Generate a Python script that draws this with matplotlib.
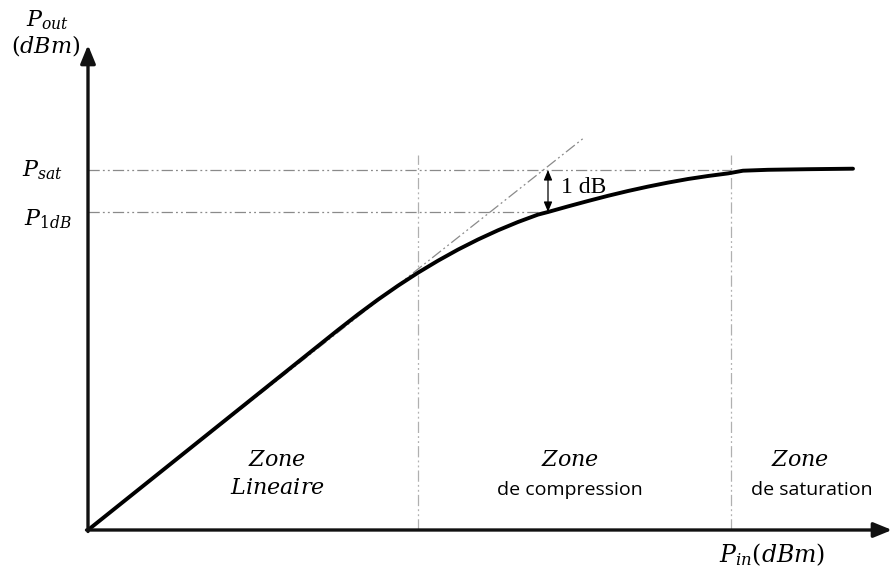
import matplotlib.pyplot as plt

plt.rcParams['mathtext.fontset'] = 'dejavuserif'

# courbe Pout = f(Pin), unités arbitraires (origine = coin des axes)
p_in = [0, 100, 200, 250, 270, 290, 310, 330, 350, 370, 390, 410, 430, 450, 460,
        480, 500, 520, 540, 560, 580, 600, 620, 640, 655, 680, 720, 765]
p_out = [0, 80, 160, 200, 215.6, 230.4, 244.3, 257.3, 269.3, 280.4, 290.5, 299.7, 308, 315.4, 318,
         323.6, 329, 334.2, 339, 343.4, 347.4, 351, 354, 356.6, 359.3, 360.2, 360.8, 361.3]

# droite tangente (zone linéaire)
tan_x = [0, 497]
tan_y = [0, 393]

p_sat = 360
p_1db = 318
x_1db = 460
x_zones = [330, 643]
zone_top = 375

x_max = 804
y_max = 485

DASH = (0, (9, 2.5, 1.5, 2.5, 1.5, 2.5))
GRIS = "#8a8a8a"

fig = plt.figure(figsize=(8.93, 5.69), dpi=100)
ax = fig.add_axes([0, 0, 1, 1])
ax.set_xlim(-88, 805)
ax.set_ylim(-39, 530)
ax.axis("off")

# axes avec flèches
ax.annotate("", xy=(x_max, 0), xytext=(-1.5, 0),
            arrowprops=dict(arrowstyle="-|>,head_length=1.1,head_width=0.45",
                            color="#111111", lw=2.4, shrinkA=0, shrinkB=0))
ax.annotate("", xy=(0, y_max), xytext=(0, -1.5),
            arrowprops=dict(arrowstyle="-|>,head_length=1.1,head_width=0.45",
                            color="#111111", lw=2.4, shrinkA=0, shrinkB=0))

# lignes de repère
ax.plot(tan_x, tan_y, color=GRIS, lw=0.9, linestyle=DASH)
ax.plot([0, x_zones[1]], [p_sat, p_sat], color=GRIS, lw=0.9, linestyle=DASH)
ax.plot([0, x_1db], [p_1db, p_1db], color=GRIS, lw=0.9, linestyle=DASH)
for xz in x_zones:
    ax.plot([xz, xz], [0, zone_top], color="#b0b0b0", lw=0.9, linestyle=DASH)

# courbe
ax.plot(p_in, p_out, color="black", lw=2.8, solid_capstyle="round", solid_joinstyle="round")

# flèche 1 dB
ax.annotate("", xy=(x_1db, p_sat), xytext=(x_1db, p_1db),
            arrowprops=dict(arrowstyle="<|-|>,head_length=0.6,head_width=0.25",
                            color="black", lw=0.9, shrinkA=0, shrinkB=0))
ax.text(x_1db + 13, (p_sat + p_1db) / 2 + 4, "1 dB", fontsize=17,
        family="Liberation Serif", va="center", ha="left")

# libellés des axes
ax.text(-41, 510, r"$P_{out}$", fontsize=16, ha="center", va="center")
ax.text(-42, 485, r"$(dBm)$", fontsize=16, ha="center", va="center")
ax.text(-46, p_sat, r"$P_{sat}$", fontsize=16, ha="center", va="center")
ax.text(-40, p_1db - 7, r"$P_{1dB}$", fontsize=16, ha="center", va="center")
ax.text(684, -25, r"$P_{in}(dBm)$", fontsize=17, ha="center", va="center")

# zones
ax.text(189, 70, r"$Zone$", fontsize=16, ha="center", va="center")
ax.text(189, 42, r"$Lineaire$", fontsize=16, ha="center", va="center")
ax.text(482, 70, r"$Zone$", fontsize=16, ha="center", va="center")
ax.text(482, 40, "de compression", fontsize=14, family="Open Sans", ha="center", va="center")
ax.text(712, 70, r"$Zone$", fontsize=16, ha="center", va="center")
ax.text(724, 40, "de saturation", fontsize=14, family="Open Sans", ha="center", va="center")

fig.savefig("out.png", dpi=100)
